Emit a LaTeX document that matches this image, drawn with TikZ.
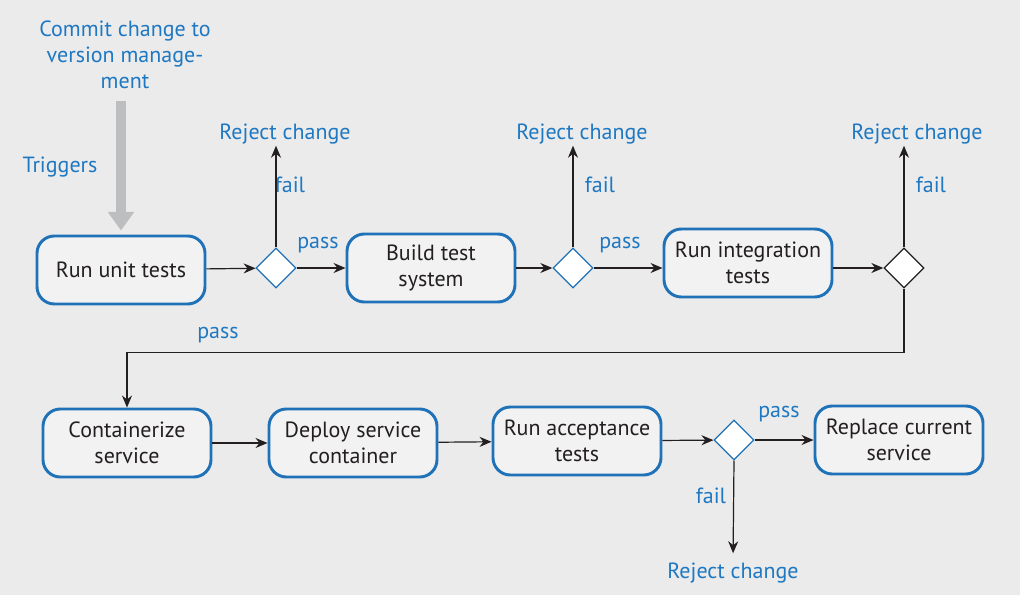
\documentclass[tikz,border=0pt]{standalone}
\usepackage{fontspec}
\setmainfont{PT Sans}
\usetikzlibrary{arrows.meta,shapes.geometric}
\definecolor{bg}{HTML}{EBEBEB}
\definecolor{bblue}{HTML}{1F72B8}
\definecolor{lblue}{HTML}{1E78C2}
\definecolor{boxfill}{HTML}{F2F2F2}
\definecolor{trig}{HTML}{BDBEC0}
\definecolor{ink}{HTML}{231F20}
\begin{document}
\begin{tikzpicture}[x=0.75pt,y=-0.75pt,
  stepbox/.style={draw=bblue, line width=2.2pt, fill=boxfill, rounded corners=13pt,
    minimum width=126pt, minimum height=51pt, align=center, inner sep=2pt,
    font=\fontsize{16.5}{19.5}\selectfont, text=ink},
  dec/.style={diamond, draw=bblue, fill=white, line width=1pt, minimum width=30pt,
    minimum height=30pt, inner sep=0pt},
  lbl/.style={text=lblue, font=\fontsize{16.5}{19.5}\selectfont, align=center, inner sep=1pt},
  arr/.style={-{Stealth[length=9pt,width=7.5pt]}, line width=0.9pt, draw=ink}]
\fill[bg] (0,0) rectangle (1020,595);
\useasboundingbox (0,0) rectangle (1020,595);

% top row
\node[stepbox] (u) at (121,270) {Run unit tests};
\node[dec] (d1) at (276,268) {};
\node[stepbox] (b) at (431,268) {Build test\\system};
\node[dec] (d2) at (573,268) {};
\node[stepbox] (i) at (748,263) {Run integration\\tests};
\node[dec, draw=ink] (d3) at (904,268) {};

% bottom row
\node[stepbox] (c) at (127,443) {Containerize\\service};
\node[stepbox] (dp) at (353,443) {Deploy service\\container};
\node[stepbox] (ra) at (577,441) {Run acceptance\\tests};
\node[dec] (d4) at (734,440) {};
\node[stepbox] (rep) at (899,440) {Replace current\\service};

% labels
\node[lbl] (commit) at (125,55) {Commit change to\\version manage-\\ment};
\node[lbl] (trg) at (60,167) {Triggers};
\node[lbl] (r1) at (285,134) {Reject change};
\node[lbl] (r2) at (582,134) {Reject change};
\node[lbl] (r3) at (917,134) {Reject change};
\node[lbl] (r4) at (733,573) {Reject change};
\node[lbl] (f1) at (290,185) {fail};
\node[lbl] (f2) at (600,185) {fail};
\node[lbl] (f3) at (931,185) {fail};
\node[lbl] (f4) at (711,496) {fail};
\node[lbl] (p1) at (318,245) {pass};
\node[lbl] (p2) at (620,245) {pass};
\node[lbl] (p3) at (218,335) {pass};
\node[lbl] (p4) at (779,414) {pass};

% trigger arrow
\draw[trig, line width=7.5pt, -{Triangle[width=19pt,length=14pt]}, shorten <=8pt, shorten >=3pt]
  (commit.south -| u.north) -- (u.north);

% connectors
\draw[arr] (u) -- (d1);
\draw[arr] (d1) -- (b);
\draw[arr] (b) -- (d2);
\draw[arr] (d2) -- (i.west |- d2);
\draw[arr] (i.east |- d3) -- (d3);
\draw[arr] (d1.north) -- (d1.north |- r1.south);
\draw[arr] (d2.north) -- (d2.north |- r2.south);
\draw[arr] (d3.north) -- (d3.north |- r3.south);
\draw[arr] (d3.south) -- ++(0,64) -| (c.north);
\draw[arr] (c) -- (dp);
\draw[arr] (dp) -- (ra);
\draw[arr] (ra) -- (d4);
\draw[arr] (d4) -- (rep);
\draw[arr, shorten >=6pt] (d4.south) -- (r4.north);
\end{tikzpicture}
\end{document}
